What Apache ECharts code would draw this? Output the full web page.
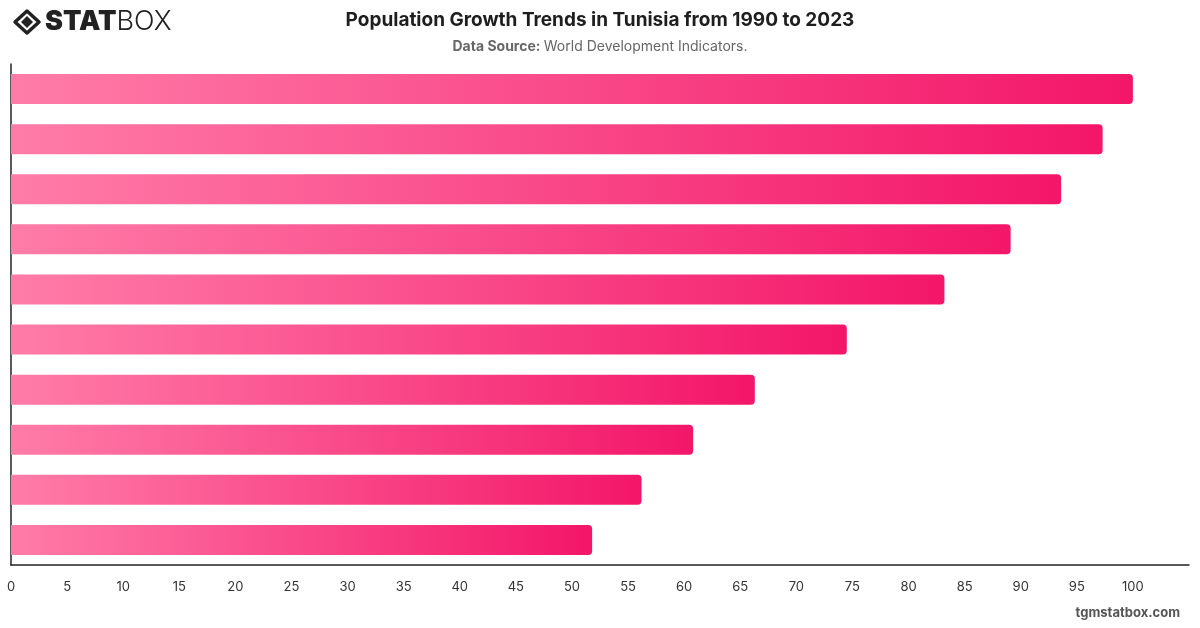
<!DOCTYPE html>
<html>
<head>
<meta charset="utf-8">
<script src="https://cdn.jsdelivr.net/npm/echarts@6/dist/echarts.min.js"></script>
<style>
  html, body { margin: 0; padding: 0; background: #fff; }
  #chart { width: 1200px; height: 628px; }
</style>
</head>
<body>
<div id="chart"></div>
<script>
// categories (not shown on the chart), top bar first
const categories = ['2023', '2020', '2016', '2012', '2008', '2004', '2000', '1996', '1993', '1990']
const values = [100, 97.3, 93.6, 89.1, 83.2, 74.5, 66.3, 60.8, 56.2, 51.8]
const xTicks = [0, 5, 10, 15, 20, 25, 30, 35, 40, 45, 50, 55, 60, 65, 70, 75, 80, 85, 90, 95, 100]

const myChart = echarts.init(document.getElementById('chart'))
const font = 'Inter, "Noto Sans", sans-serif'

const option = {
  backgroundColor: '#fff',
  animation: false,
  title: {
    left: 'center',
    top: 6,
    text: 'Population Growth Trends in Tunisia from 1990 to 2023',
    textStyle: { fontFamily: font, fontSize: 19, fontWeight: 'bold', color: '#1e1e1e' },
    subtext: '{b|Data Source:} {n|World Development Indicators.}',
    itemGap: 10,
    subtextStyle: {
      rich: {
        b: { fontFamily: font, fontSize: 14, fontWeight: 'bold', color: '#666' },
        n: { fontFamily: font, fontSize: 14, color: '#666' }
      }
    }
  },
  grid: { left: 11, right: 11, top: 64, bottom: 63, containLabel: false },
  xAxis: {
    type: 'value',
    min: 0,
    max: 105,
    interval: 5,
    axisLine: { show: true, lineStyle: { color: '#222', width: 1.5 } },
    axisTick: { show: false },
    splitLine: { show: false },
    axisLabel: {
      margin: 16,
      fontFamily: font,
      fontSize: 13,
      color: '#333',
      formatter: v => (xTicks.indexOf(v) >= 0 ? String(v) : '')
    }
  },
  yAxis: {
    type: 'category',
    data: categories,
    inverse: true,
    axisLine: { show: true, lineStyle: { color: '#222', width: 1.5 } },
    axisTick: { show: false },
    axisLabel: { show: false }
  },
  series: [
    {
      type: 'bar',
      data: values,
      barWidth: 30,
      itemStyle: {
        borderRadius: [0, 4, 4, 0],
        color: new echarts.graphic.LinearGradient(0, 0, 1, 0, [
          { offset: 0, color: '#ff7ca8' },
          { offset: 1, color: '#f31669' }
        ])
      }
    }
  ],
  graphic: [
    // STATBOX logo
    { type: 'polygon', shape: { points: [[27, 11], [39, 22], [27, 33], [15, 22]] },
      style: { fill: 'none', stroke: '#222', lineWidth: 3.5, lineJoin: 'round' } },
    { type: 'polygon', shape: { points: [[27, 16], [33, 22], [27, 28], [21, 22]] },
      style: { fill: '#222' } },
    { type: 'text', x: 45, y: 22,
      style: { text: '{s|STAT}{b|BOX}', verticalAlign: 'middle', rich: {
        s: { fontFamily: font, fontSize: 27, fontWeight: 900, fill: '#222' },
        b: { fontFamily: font, fontSize: 27, fontWeight: 300, fill: '#222' }
      } } },
    {
      type: 'text',
      right: 20,
      top: 607,
      style: { text: 'tgmstatbox.com', fontFamily: font, fontSize: 13, fontWeight: 'bold', fill: '#555' }
    }
  ]
}

option && myChart.setOption(option)
</script>
</body>
</html>
